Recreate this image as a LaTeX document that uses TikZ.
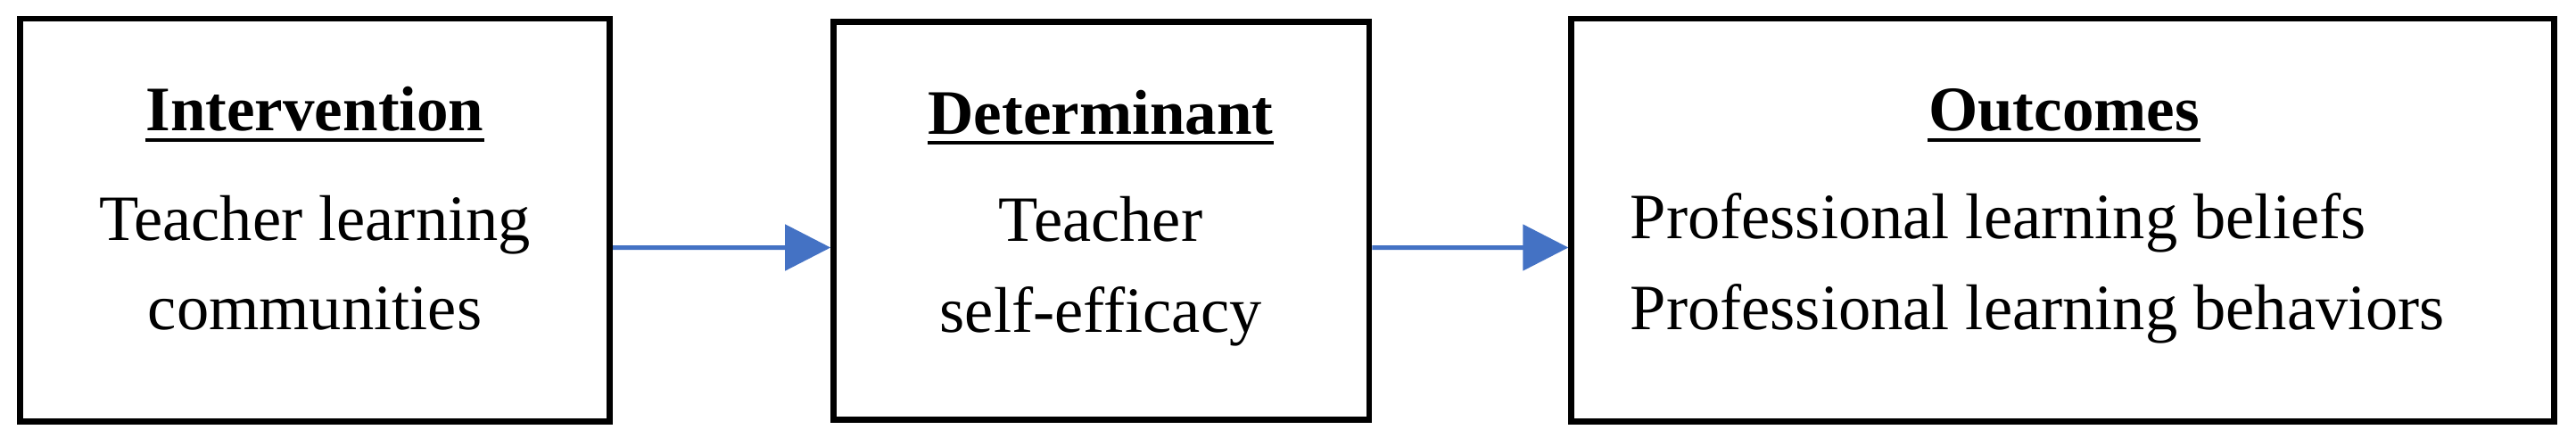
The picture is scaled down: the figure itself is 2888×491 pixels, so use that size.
\documentclass[tikz,border=0pt]{standalone}
\usepackage{fontspec}
\setmainfont{Liberation Serif}
\usetikzlibrary{arrows.meta}
\definecolor{flowblue}{HTML}{4472C4}

\begin{document}
\begin{tikzpicture}[x=0.01cm, y=-0.01cm,
            stage/.style={draw, line width=1.9pt, inner sep=0pt},
            heading/.style={font=\fontsize{20.2}{24}\selectfont\bfseries, inner sep=0pt, anchor=base},
            entry/.style={font=\fontsize{20.6}{24}\selectfont, inner sep=0pt, anchor=base},
            headrule/.style={line width=1.14pt},
            flow/.style={draw=flowblue, line width=1.42pt, -{Triangle[length=0.51cm, width=0.51cm]}}]
            \useasboundingbox (0, 0) rectangle (2888, 491);

            \node[stage, minimum width=6.61cm, minimum height=4.515cm] (interv) at (353, 246.75) {};
            \node[stage, minimum width=6.00cm, minimum height=4.46cm] (determ) at (1234.75, 247.5) {};
            \node[stage, minimum width=11.01cm, minimum height=4.515cm] (outcome) at (2312.5, 246.75) {};

            \node[heading] (intervHead) at (353, 147) {Intervention};
            \node[entry] (intervA) at (353, 269) {Teacher learning};
            \node[entry] (intervB) at (353, 369) {communities};

            \node[heading] (determHead) at (1234, 150) {Determinant};
            \node[entry] (determA) at (1234, 271) {Teacher};
            \node[entry] (determB) at (1234, 372) {self-efficacy};

            \node[heading] (outcomeHead) at (2314, 147) {Outcomes};
            \node[entry, anchor=base west] (outcomeA) at (1827, 268) {Professional learning beliefs};
            \node[entry, anchor=base west] (outcomeB) at (1827, 369) {Professional learning behaviors};

            % underlined headings
            \foreach \h in {intervHead, determHead, outcomeHead}
                \draw[headrule] ([yshift=-0.1cm]\h.base west) -- ([yshift=-0.1cm]\h.base east);

            \draw[flow] ([yshift=-0.3075cm]interv.east) -- ([yshift=-0.3cm]determ.west);
            \draw[flow] ([yshift=-0.3cm]determ.east) -- ([yshift=-0.3075cm]outcome.west);
        \end{tikzpicture}
\end{document}
